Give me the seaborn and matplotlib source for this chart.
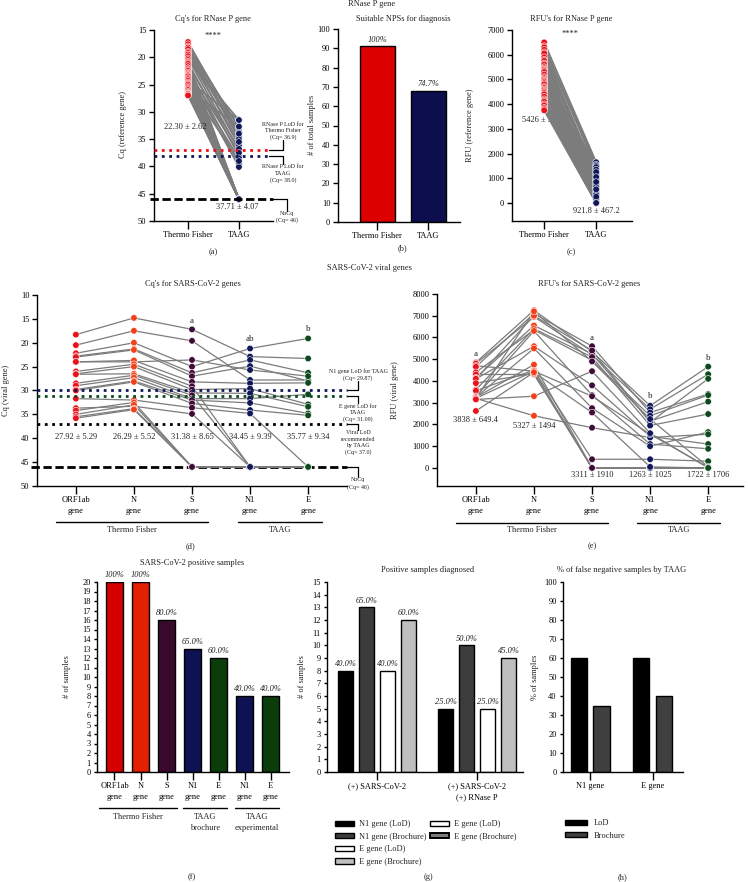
import pandas as pd
import matplotlib
matplotlib.use('Agg')
import matplotlib.pyplot as plt
import seaborn as sns
from matplotlib.patches import Patch

# ---------------- data ----------------
# (a) RNase P Cq, one pair per sample
rnp_cq_thermo = [17.2, 17.6, 18.0, 18.2, 18.5, 19.0, 19.2, 19.5, 19.8, 20.2,
                 20.5, 20.8, 21.0, 21.2, 21.6, 22.0, 22.0, 22.3, 22.5, 22.8,
                 23.0, 23.2, 23.3, 23.5, 23.8, 24.0, 24.3, 24.6, 24.8, 25.0,
                 25.3, 25.6, 25.8, 26.0, 26.3, 26.5, 26.6, 26.7, 26.9, 27.0]
rnp_cq_taag = [33.8, 33.0, 34.5, 32.7, 35.0, 33.8, 36.2, 34.0, 35.5, 37.0,
               31.5, 46, 38.0, 46, 36.8, 46, 39.5, 46, 37.5, 46,
               40.1, 46, 46, 38.5, 46, 46, 31.5, 46, 46, 39.0,
               46, 46, 46, 32.7, 46, 46, 46, 46, 46, 46]
rnp_lod_thermo = 36.9
rnp_lod_taag = 38.0
no_cq = 46

# (b) suitable NPSs
kits = ['Thermo Fisher', 'TAAG']
suitable_nps = [91, 68]

# (c) RNase P RFU
rnp_rfu_thermo = [6500, 6350, 6300, 6200, 6100, 6050, 5900, 5800, 5750, 5650,
                  5600, 5500, 5450, 5400, 5350, 5300, 5200, 5100, 5050, 5000,
                  4950, 4900, 4850, 4800, 4700, 4650, 4600, 4550, 4500, 4450,
                  4400, 4300, 4200, 4150, 4100, 4000, 3950, 3850, 3800, 3750]
rnp_rfu_taag = [1650, 1400, 1550, 1500, 1200, 900, 1100, 700, 1300, 450,
                500, 1000, 950, 800, 1450, 600, 300, 600, 1150, 200,
                1350, 900, 50, 750, 1250, 400, 0, 0, 650, 100,
                1050, 0, 350, 850, 0, 150, 550, 0, 250, 0]

# (d) viral Cq, 20 positive samples
genes = ['ORF1ab\ngene', 'N\ngene', 'S\ngene', 'N1\ngene', 'E\ngene']
cq_orf1ab = [18.3, 20.5, 22.2, 22.8, 23.0, 24.0, 24.0, 26.0, 26.5, 26.6,
             28.5, 29.0, 29.8, 30.0, 31.7, 33.7, 34.2, 35.0, 35.5, 35.8]
cq_n = [14.8, 17.5, 20.0, 21.3, 21.5, 24.0, 23.7, 24.5, 25.0, 26.5,
        26.8, 27.3, 28.0, 28.2, 32.0, 33.3, 32.5, 33.0, 33.8, 34.0]
cq_s = [17.2, 19.6, 25.0, 26.3, 27.0, 23.6, 28.2, 29.1, 29.8, 30.5,
        31.0, 31.7, 32.0, 32.7, 33.6, 34.9, 46, 46, 46, 46]
cq_n1 = [22.9, 27.8, 21.2, 23.6, 24.9, 25.7, 28.5, 46, 29.6, 30.6,
         46, 31.7, 32.6, 34.1, 34.8, 46, 46, 46, 46, 46]
cq_e = [23.3, 27.8, 19.1, 26.3, 28.0, 27.0, 28.4, 46, 32.9, 33.4,
        46, 30.8, 34.8, 35.2, 46, 46, 46, 46, 46, 46]
cq_means = ['27.92 ± 5.29', '26.29 ± 5.52', '31.38 ± 8.65', '34.45 ± 9.39', '35.77 ± 9.34']
n1_lod_taag = 29.87
e_lod_taag = 31.09
viral_lod_taag = 37.0

# (e) viral RFU
rfu_orf1ab = [4850, 4800, 4700, 4650, 4400, 4300, 4150, 4100, 4100, 3900,
              3600, 3550, 3300, 3250, 3250, 3200, 3200, 3200, 3150, 2620]
rfu_n = [7250, 6950, 4450, 7100, 6350, 4300, 6550, 5600, 7000, 4350,
         6400, 4500, 6300, 5500, 4750, 2400, 7200, 4450, 3300, 4400]
rfu_s = [5350, 5200, 0, 5600, 4950, 0, 5250, 3800, 5400, 0,
         5100, 400, 3350, 2750, 0, 1850, 4900, 3300, 4450, 2550]
rfu_n1 = [2860, 2700, 0, 2550, 2400, 0, 2150, 1450, 2100, 0,
          1950, 400, 1100, 1000, 0, 1400, 2250, 1550, 1600, 50]
rfu_e = [4660, 4310, 0, 3400, 3350, 0, 3050, 1100, 4100, 0,
         2480, 310, 880, 1650, 0, 1550, 50, 30, 0, 0]
rfu_means = ['3838 ± 649.4', '5327 ± 1494', '3311 ± 1910', '1263 ± 1025', '1722 ± 1706']

# (f) positive samples per gene
f_keys = ['ORF1ab', 'N', 'S', 'N1 brochure', 'E brochure', 'N1 experimental', 'E experimental']
f_ticklabels = ['ORF1ab\ngene', 'N\ngene', 'S\ngene', 'N1\ngene', 'E\ngene', 'N1\ngene', 'E\ngene']
f_counts = [20, 20, 16, 13, 12, 8, 8]
n_positive = 20

# (g) positive samples diagnosed
g_groups = ['(+) SARS-CoV-2', '(+) SARS-CoV-2\n(+) RNase P']
g_series = ['N1 gene (LoD)', 'N1 gene (Brochure)', 'E gene (LoD)', 'E gene (Brochure)']
g_n1_lod = [8, 5]
g_n1_brochure = [13, 10]
g_e_lod = [8, 5]
g_e_brochure = [12, 9]

# (h) false negatives by TAAG
h_genes = ['N1 gene', 'E gene']
h_series = ['LoD', 'Brochure']
h_lod = [60, 60]
h_brochure = [35, 40]

# ---------------- style ----------------
sns.set_theme(style='ticks')
plt.rcParams.update({
    'font.family': ['Liberation Serif', 'DejaVu Serif'],
    'font.size': 6,
    'axes.linewidth': 1.0,
    'axes.edgecolor': 'black',
    'xtick.major.width': 1.0, 'ytick.major.width': 1.0,
    'xtick.major.size': 5.5, 'ytick.major.size': 3.5,
    'xtick.major.pad': 2, 'ytick.major.pad': 2,
    'xtick.labelsize': 6, 'ytick.labelsize': 6,
    'xtick.color': 'black', 'ytick.color': 'black',
    'text.color': '#222222',
})

W, H = 748, 882
fig = plt.figure(figsize=(W / 100, H / 100), dpi=100)

red_tf = '#e8121a'
orange_n = '#f2401a'
purple_s = '#3e0c38'
navy = '#10185a'
green = '#0c4a1e'
grey_line = '#7c7c7c'


def px_axes(l, t, r, b):
    return fig.add_axes([l / W, 1 - b / H, (r - l) / W, (b - t) / H])


def ftext(x, y, s, **kw):
    kw.setdefault('ha', 'center')
    kw.setdefault('va', 'center')
    kw.setdefault('fontsize', 6)
    fig.text(x / W, 1 - y / H, s, **kw)


def paired_plot(ax, cats, series, colors, size, lw):
    rows = []
    for i, (cat, vals) in enumerate(zip(cats, series)):
        for j, v in enumerate(vals):
            rows.append({'pos': i, 'cat': cat, 'sample': j, 'value': v})
    df = pd.DataFrame(rows)
    sns.lineplot(data=df, x='pos', y='value', units='sample', estimator=None,
                 color=grey_line, linewidth=lw, ax=ax, legend=False, zorder=2)
    sns.scatterplot(data=df, x='pos', y='value', hue='cat', palette=dict(zip(cats, colors)),
                    s=size, edgecolor='white', linewidth=0.4, ax=ax, legend=False, zorder=3)
    ax.set_xticks(range(len(cats)))
    ax.set_xticklabels(cats, linespacing=1.5)
    ax.set_xlabel('')
    ax.set_ylabel('')
    sns.despine(ax=ax)


def bracket(ax, x0, x1, y0, y1, text, va, tx=None):
    kw = dict(color='black', lw=0.9, clip_on=False)
    ax.plot([x0, x1], [y0, y0], **kw)
    ax.plot([x1, x1], [y0, y1], **kw)
    ax.text(x1 if tx is None else tx, y1, text, ha='center', va=va, fontsize=4.3,
            linespacing=1.35, clip_on=False)


def group_line(ax, x0, x1, y, ty, label):
    tr = ax.get_xaxis_transform()
    ax.plot([x0, x1], [y, y], transform=tr, color='black', lw=1, clip_on=False)
    ax.text((x0 + x1) / 2, ty, label, transform=tr, ha='center', va='top', fontsize=6,
            linespacing=1.5)


def pct(n, total):
    p = 100 * n / total
    return '100%' if round(p, 1) == 100 else f'{p:.1f}%'


# ---------------- (a) ----------------
ax = px_axes(154, 30, 273, 221)
paired_plot(ax, kits, [rnp_cq_thermo, rnp_cq_taag], [red_tf, navy], 22, 1.3)
ax.set_xlim(-0.67, 1.67)
ax.set_ylim(50, 15)
ax.set_yticks(range(15, 51, 5))
ax.hlines(rnp_lod_thermo, -0.67, 1.60, colors=red_tf, linestyles=':', lw=2.0, zorder=4, clip_on=False)
ax.hlines(rnp_lod_taag, -0.67, 1.60, colors=navy, linestyles=':', lw=2.0, zorder=4, clip_on=False)
ax.hlines(no_cq, -0.75, 1.67, colors='black', linestyles=(0, (3, 1.3)), lw=2.0, zorder=4, clip_on=False)
bracket(ax, 1.60, 1.87, rnp_lod_thermo, 35.2, 'RNase P LoD for\nThermo Fisher\n(Cq= 36.9)', 'bottom')
bracket(ax, 1.60, 1.87, rnp_lod_taag, 39.6, 'RNase P LoD for\nTAAG\n(Cq= 38.0)', 'top')
bracket(ax, 1.67, 1.94, no_cq, 48.1, 'NoCq\n(Cq= 46)', 'top')
ax.text(-0.06, 32.8, '22.30 ± 2.62', ha='center', va='center', fontsize=6, zorder=5)
ax.text(0.96, 47.5, '37.71 ± 4.07', ha='center', va='center', fontsize=6)
ax.text(0.49, 16.0, '****', ha='center', va='center', fontsize=6)
ftext(213, 19, "Cq's for RNase P gene")
ftext(123, 125, 'Cq (reference gene)', rotation=90)
ftext(213, 252, '(a)')

# ---------------- (b) ----------------
ax = px_axes(338, 29, 460, 222)
sns.barplot(x=kits, y=suitable_nps, hue=kits, palette=['#dc0000', '#0d0e4e'], legend=False,
            width=0.69, saturation=1, edgecolor='black', linewidth=1, ax=ax)
for cont, n in zip(ax.containers, suitable_nps):
    ax.bar_label(cont, labels=[pct(n, suitable_nps[0])], padding=2, fontsize=6, fontstyle='italic')
ax.set_xlim(-0.77, 1.62)
ax.set_ylim(0, 100)
ax.set_yticks(range(0, 101, 10))
ax.set_xticks(range(2))
ax.set_xticklabels(kits)
sns.despine(ax=ax)
ftext(403, 19, 'Suitable NPSs for diagnosis')
ftext(312, 125, '# of total samples', rotation=90)
ftext(402, 248, '(b)')
ftext(372, 4, 'RNase P gene')

# ---------------- (c) ----------------
ax = px_axes(512, 30, 632, 221)
paired_plot(ax, kits, [rnp_rfu_thermo, rnp_rfu_taag], [red_tf, navy], 22, 1.3)
ax.set_xlim(-0.62, 1.69)
ax.set_ylim(-730, 7000)
ax.set_yticks(range(0, 7001, 1000))
ax.text(0.0, 3360, '5426 ± 596.1', ha='center', va='center', fontsize=6, zorder=1)
ax.text(1.0, -320, '921.8 ± 467.2', ha='center', va='center', fontsize=6)
ax.text(0.5, 6850, '****', ha='center', va='center', fontsize=6)
ftext(571, 19, "RFU's for RNase P gene")
ftext(470, 125, 'RFU (reference gene)', rotation=90)
ftext(571, 252, '(c)')

# ---------------- (d) ----------------
gene_colors = [red_tf, orange_n, purple_s, navy, green]
ax = px_axes(37, 295, 347, 486)
paired_plot(ax, genes, [cq_orf1ab, cq_n, cq_s, cq_n1, cq_e], gene_colors, 22, 0.9)
ax.set_xlim(-0.67, 4.67)
ax.set_ylim(50, 10)
ax.set_yticks(range(10, 51, 5))
ax.hlines(n1_lod_taag, -0.67, 4.67, colors=navy, linestyles=':', lw=2.0, zorder=4, clip_on=False)
ax.hlines(e_lod_taag, -0.67, 4.67, colors=green, linestyles=':', lw=2.0, zorder=4, clip_on=False)
ax.hlines(viral_lod_taag, -0.67, 4.67, colors='black', linestyles=':', lw=2.0, zorder=4, clip_on=False)
ax.hlines(no_cq, -0.78, 4.67, colors='black', linestyles=(0, (3, 1.3)), lw=2.0, zorder=1, clip_on=False)
bracket(ax, 4.67, 4.86, n1_lod_taag, 28.0, 'N1 gene LoD for TAAG\n(Cq= 29.87)', 'bottom')
bracket(ax, 4.67, 4.86, e_lod_taag, 32.6, 'E gene LoD for\nTAAG\n(Cq= 31.09)', 'top')
bracket(ax, 4.67, 4.86, viral_lod_taag, 38.3, 'Viral LoD\nrecommended\nby TAAG\n(Cq= 37.0)', 'top')
bracket(ax, 4.67, 4.86, no_cq, 48.2, 'NoCq\n(Cq= 46)', 'top')
for i, s in enumerate(cq_means):
    ax.text(i, 39.8, s, ha='center', va='center', fontsize=6)
for i, s, y in [(2, 'a', 15.4), (3, 'ab', 19.2), (4, 'b', 17.1)]:
    ax.text(i, y, s, ha='center', va='center', fontsize=6.5)
group_line(ax, -0.34, 2.28, -0.188, -0.21, 'Thermo Fisher')
group_line(ax, 2.79, 4.24, -0.188, -0.21, 'TAAG')
ftext(193, 284, "Cq's for SARS-CoV-2 genes")
ftext(6, 390, 'Cq (viral gene)', rotation=90)
ftext(190, 546, '(d)')
ftext(369, 268, 'SARS-CoV-2 viral genes')

# ---------------- (e) ----------------
ax = px_axes(437, 294, 743, 486)
paired_plot(ax, genes, [rfu_orf1ab, rfu_n, rfu_s, rfu_n1, rfu_e], gene_colors, 22, 0.9)
ax.set_xlim(-0.67, 4.6)
ax.set_ylim(-830, 8000)
ax.set_yticks(range(0, 8001, 1000))
for i, s, y in [(0, rfu_means[0], 2200), (1, rfu_means[1], 1930), (2, rfu_means[2], -320),
                (3, rfu_means[3], -320), (4, rfu_means[4], -320)]:
    ax.text(i, y, s, ha='center', va='center', fontsize=6)
for i, s, y in [(0, 'a', 5240), (2, 'a', 5980), (3, 'b', 3310), (4, 'b', 5060)]:
    ax.text(i, y, s, ha='center', va='center', fontsize=6.5)
group_line(ax, -0.34, 2.28, -0.193, -0.21, 'Thermo Fisher')
group_line(ax, 2.78, 4.21, -0.193, -0.21, 'TAAG')
ftext(589, 284, "RFU's for SARS-CoV-2 genes")
ftext(395, 390, 'RFU (viral gene)', rotation=90)
ftext(592, 546, '(e)')

# ---------------- (f) ----------------
ax = px_axes(97, 582, 289, 772)
f_colors = ['#d60000', '#e32000', '#3a0a2e', '#0e1252', '#0a3c0c', '#0e1252', '#0a3c0c']
sns.barplot(x=f_keys, y=f_counts, hue=f_keys, palette=f_colors, legend=False,
            width=0.67, saturation=1, edgecolor='black', linewidth=1, ax=ax)
for cont, n in zip(ax.containers, f_counts):
    ax.bar_label(cont, labels=[pct(n, n_positive)], padding=2, fontsize=6, fontstyle='italic')
ax.set_xlim(-0.67, 6.7)
ax.set_ylim(0, 20)
ax.set_yticks(range(0, 21))
ax.set_xticks(range(len(f_keys)))
ax.set_xticklabels(f_ticklabels, linespacing=1.5)
ax.tick_params(axis='y', length=2.5)
sns.despine(ax=ax)
group_line(ax, -0.6, 2.4, -0.189, -0.215, 'Thermo Fisher')
group_line(ax, 2.63, 4.33, -0.189, -0.215, 'TAAG\nbrochure')
group_line(ax, 4.63, 6.33, -0.189, -0.215, 'TAAG\nexperimental')
ftext(192, 563, 'SARS-CoV-2 positive samples')
ftext(67, 677, '# of samples', rotation=90)
ftext(192, 877, '(f)')

# ---------------- (g) ----------------
ax = px_axes(327, 582, 523, 772)
g_colors = ['#000000', '#3c3c3c', '#ffffff', '#bfbfbf']
g_values = [g_n1_lod, g_n1_brochure, g_e_lod, g_e_brochure]
g_df = pd.DataFrame({
    'group': g_groups * len(g_series),
    'series': [s for s in g_series for _ in g_groups],
    'count': [v for vals in g_values for v in vals],
})
sns.barplot(data=g_df, x='group', y='count', hue='series', palette=g_colors, width=0.84, gap=0.33,
            saturation=1, edgecolor='black', linewidth=1, legend=False, ax=ax)
for cont, vals in zip(ax.containers, g_values):
    ax.bar_label(cont, labels=[pct(v, n_positive) for v in vals], padding=2, fontsize=6,
                 fontstyle='italic')
ax.set_xlim(-0.5, 1.46)
ax.set_ylim(0, 15)
ax.set_yticks(range(0, 16))
ax.set_xticks(range(2))
ax.set_xticklabels(g_groups, linespacing=1.5)
ax.set_xlabel('')
ax.set_ylabel('')
ax.tick_params(axis='y', length=2.5)
sns.despine(ax=ax)
fig.legend(handles=[Patch(facecolor=c, edgecolor='black', lw=1) for c in g_colors],
           labels=g_series, loc='upper left', bbox_to_anchor=(331 / W, 1 - 816 / H),
           frameon=False, fontsize=6, handlelength=2.3, handleheight=0.6,
           labelspacing=0.55, borderpad=0, handletextpad=0.6)
fig.legend(handles=[Patch(facecolor='#ffffff', edgecolor='black', lw=1),
                    Patch(facecolor='#7a7a7a', edgecolor='black', lw=1.4)],
           labels=g_series[2:], loc='upper left', bbox_to_anchor=(426 / W, 1 - 816 / H),
           frameon=False, fontsize=6, handlelength=2.3, handleheight=0.6,
           labelspacing=0.55, borderpad=0, handletextpad=0.6)
ftext(428, 570, 'Positive samples diagnosed')
ftext(302, 677, '# of samples', rotation=90)
ftext(428, 877, '(g)')

# ---------------- (h) ----------------
ax = px_axes(563, 582, 683, 772)
h_colors = ['#000000', '#404040']
h_values = [h_lod, h_brochure]
h_df = pd.DataFrame({
    'gene': h_genes * len(h_series),
    'series': [s for s in h_series for _ in h_genes],
    'pct': [v for vals in h_values for v in vals],
})
sns.barplot(data=h_df, x='gene', y='pct', hue='series', palette=h_colors, width=0.73, gap=0.3,
            saturation=1, edgecolor='black', linewidth=1, legend=False, ax=ax)
ax.set_xlim(-0.43, 1.48)
ax.set_ylim(0, 100)
ax.set_yticks(range(0, 101, 10))
ax.set_xticks(range(2))
ax.set_xticklabels(h_genes)
ax.set_xlabel('')
ax.set_ylabel('')
ax.tick_params(axis='y', length=2.5)
sns.despine(ax=ax)
fig.legend(handles=[Patch(facecolor=c, edgecolor='black', lw=1) for c in h_colors],
           labels=h_series, loc='upper left', bbox_to_anchor=(561 / W, 1 - 815 / H),
           frameon=False, fontsize=6, handlelength=2.6, handleheight=0.6,
           labelspacing=0.55, borderpad=0, handletextpad=0.8)
ftext(622, 570, '% of false negative samples by TAAG')
ftext(535, 677, '% of samples', rotation=90)
ftext(622, 877, '(h)')

fig.savefig('out.png', dpi=100)
